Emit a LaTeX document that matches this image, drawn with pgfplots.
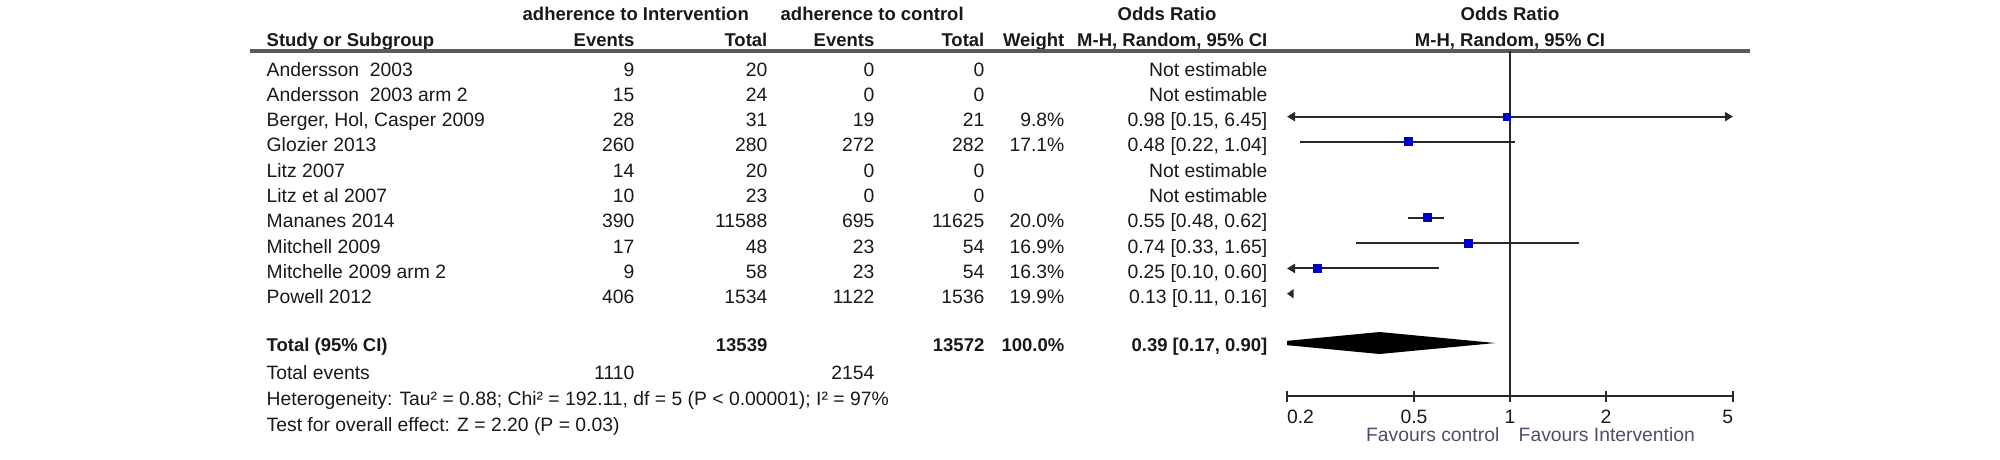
\documentclass[border=0pt]{standalone}
\usepackage{pgfplots}
\pgfplotsset{compat=1.18}
\usepackage{fontspec}
\setmainfont{Liberation Sans}
\usetikzlibrary{arrows.meta}
\definecolor{hdr}{RGB}{62,56,60}
\definecolor{fav}{RGB}{78,78,108}
\definecolor{sq}{RGB}{0,0,200}
\definecolor{ln}{RGB}{40,40,40}

% one unit = one pixel of the 2000 x 459 picture
\newcommand\rg{\fontsize{5.8}{7}\selectfont}
\newcommand\bd{\fontsize{5.55}{7}\selectfont\bfseries\color{hdr}}

% a study row: baseline, name, events I, total I, events C, total C, weight, OR text
\newcommand\row[8]{%
  \node[anchor=base west] at (266,#1) {#2};
  \node[anchor=base east] at (635,#1) {#3};
  \node[anchor=base east] at (768,#1) {#4};
  \node[anchor=base east] at (875,#1) {#5};
  \node[anchor=base east] at (985,#1) {#6};
  \node[anchor=base east] at (1065,#1) {#7};
  \node[anchor=base east] at (1268,#1) {#8};}

\begin{document}
\begin{tikzpicture}
\path[use as bounding box] (0,0) rectangle (600pt,-137.7pt);

\begin{scope}[x=0.3pt,y=-0.3pt,every node/.style={inner sep=0pt,font=\rg,text=black!90}]
  % headers
  \node[anchor=base west,font=\bd] at (522,20.5) {adherence to Intervention};
  \node[anchor=base west,font=\bd] at (780,20.5) {adherence to control};
  \node[anchor=base,font=\bd] at (1167,20.5) {Odds Ratio};
  \node[anchor=base,font=\bd] at (1510,20.5) {Odds Ratio};
  \node[anchor=base west,font=\bd] at (266,46.5) {Study or Subgroup};
  \node[anchor=base east,font=\bd] at (635,46.5) {Events};
  \node[anchor=base east,font=\bd] at (768,46.5) {Total};
  \node[anchor=base east,font=\bd] at (875,46.5) {Events};
  \node[anchor=base east,font=\bd] at (985,46.5) {Total};
  \node[anchor=base east,font=\bd] at (1065,46.5) {Weight};
  \node[anchor=base east,font=\bd] at (1268,46.5) {M-H, Random, 95\% CI};
  \node[anchor=base,font=\bd] at (1510,46.5) {M-H, Random, 95\% CI};
  \draw[line width=1pt,draw=black!65] (250,51) -- (1750,51);

  \row{76}{Andersson\ \ 2003}{9}{20}{0}{0}{}{Not estimable}
  \row{101.3}{Andersson\ \ 2003 arm 2}{15}{24}{0}{0}{}{Not estimable}
  \row{126.6}{Berger, Hol, Casper 2009}{28}{31}{19}{21}{9.8\%}{0.98 [0.15, 6.45]}
  \row{151.9}{Glozier 2013}{260}{280}{272}{282}{17.1\%}{0.48 [0.22, 1.04]}
  \row{177.2}{Litz 2007}{14}{20}{0}{0}{}{Not estimable}
  \row{202.5}{Litz et al 2007}{10}{23}{0}{0}{}{Not estimable}
  \row{227.8}{Mananes 2014}{390}{11588}{695}{11625}{20.0\%}{0.55 [0.48, 0.62]}
  \row{253.1}{Mitchell 2009}{17}{48}{23}{54}{16.9\%}{0.74 [0.33, 1.65]}
  \row{278.4}{Mitchelle 2009 arm 2}{9}{58}{23}{54}{16.3\%}{0.25 [0.10, 0.60]}
  \row{303.7}{Powell 2012}{406}{1534}{1122}{1536}{19.9\%}{0.13 [0.11, 0.16]}

  % totals
  \node[anchor=base west,font=\bd] at (266,351.5) {Total (95\% CI)};
  \node[anchor=base east,font=\bd] at (768,351.5) {13539};
  \node[anchor=base east,font=\bd] at (985,351.5) {13572};
  \node[anchor=base east,font=\bd] at (1065,351.5) {100.0\%};
  \node[anchor=base east,font=\bd] at (1268,351.5) {0.39 [0.17, 0.90]};
  \node[anchor=base west] at (266,379.5) {Total events};
  \node[anchor=base east] at (635,379.5) {1110};
  \node[anchor=base east] at (875,379.5) {2154};
  \node[anchor=base west] at (266,405.5) {Heterogeneity: Tau² = 0.88; Chi² = 192.11, df = 5 (P < 0.00001); I² = 97\%};
  \node[anchor=base west] at (266,431.5) {Test for overall effect: Z = 2.20 (P = 0.03)};

  \node[anchor=base east,text=fav] at (1500,441.5) {Favours control};
  \node[anchor=base west,text=fav] at (1518,441.5) {Favours Intervention};
\end{scope}

\begin{axis}[
  at={(386.1pt,-118.8pt)}, anchor=south west,
  scale only axis, width=133.8pt, height=103.5pt,
  xmode=log, xmin=0.2, xmax=5, ymin=-396, ymax=-51,
  axis x line=bottom, axis y line=none,
  axis line style={-,draw=ln,line width=0.6pt},
  xtick={0.2,0.5,1,2,5},
  xticklabels={\rlap{0.2},0.5,1,2,\llap{5}},
  xminorticks=false, ytick=\empty,
  tick align=center, major tick length=3.3pt,
  tick style={draw=ln,line width=0.6pt},
  ticklabel style={font=\rg,text=black!90,inner sep=0pt,yshift=-2.4pt},
  ]
% line of no effect
\addplot[ln,line width=0.6pt] coordinates {(1,-51) (1,-396)};

% confidence intervals (cut at the axis ends, arrows where they run past)
\addplot[ln,line width=0.6pt,{Triangle[length=2.4pt,width=2.7pt]}-{Triangle[length=2.4pt,width=2.7pt]}]
  coordinates {(0.2,-116.6) (5,-116.6)};          % 0.15 - 6.45
\addplot[ln,line width=0.6pt] coordinates {(0.22,-141.9) (1.04,-141.9)};
\addplot[ln,line width=0.6pt] coordinates {(0.48,-217.8) (0.62,-217.8)};
\addplot[ln,line width=0.6pt] coordinates {(0.33,-243.1) (1.65,-243.1)};
\addplot[ln,line width=0.6pt,{Triangle[length=2.4pt,width=2.7pt]}-]
  coordinates {(0.2,-268.4) (0.60,-268.4)};       % 0.10 - 0.60
\addplot[ln,line width=0.6pt,{Triangle[length=2.0pt,width=2.7pt]}-]
  coordinates {(0.2,-293.7) (0.207,-293.7)};      % 0.11 - 0.16, off scale

% point estimates
\addplot[only marks,mark=square*,mark size=1.05pt,mark options={fill=sq,draw=sq,line width=0pt}]
  coordinates {(0.98,-116.6)};
\addplot[only marks,mark=square*,mark size=1.2pt,mark options={fill=sq,draw=sq,line width=0pt}]
  coordinates {(0.48,-141.9) (0.55,-217.8) (0.74,-243.1) (0.25,-268.4)};

% pooled estimate
\addplot[fill=black,draw=none] coordinates {(0.17,-343) (0.39,-332) (0.90,-343) (0.39,-354)} -- cycle;
\end{axis}
\end{tikzpicture}
\end{document}
